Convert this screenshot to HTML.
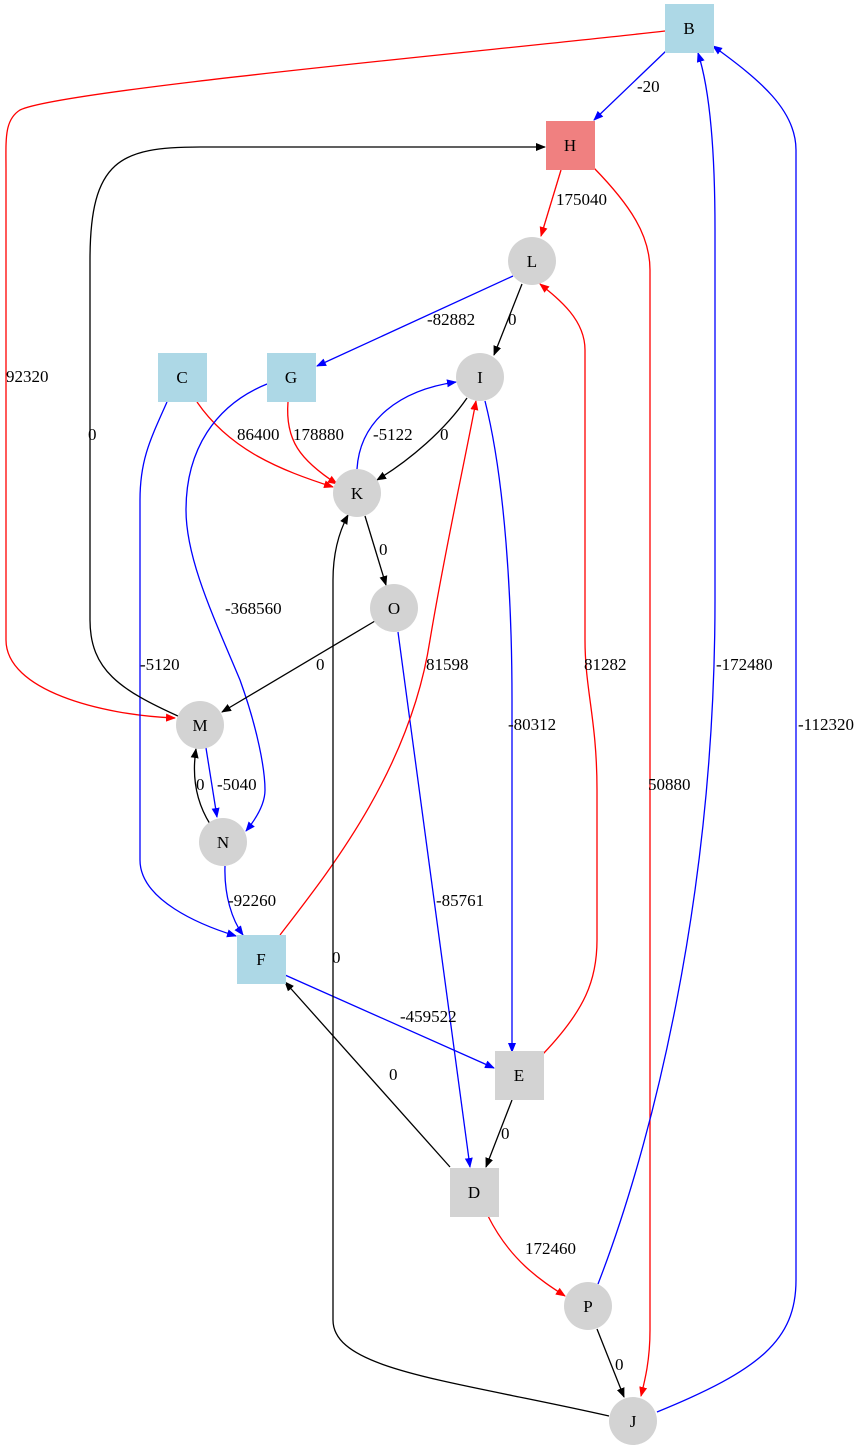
<!DOCTYPE html>
<html><head><meta charset="utf-8"><style>
html,body{margin:0;padding:0;background:#fff;}
svg{display:block;}
text{font-family:"Liberation Serif",serif;font-size:17px;}
</style></head><body>
<svg width="863" height="1453" viewBox="0 0 863 1453" xmlns="http://www.w3.org/2000/svg">
<defs>
<marker id="ak" viewBox="0 0 10 10" refX="9" refY="5" markerWidth="10" markerHeight="10" markerUnits="userSpaceOnUse" orient="auto"><path d="M0,1 L10,5 L0,9 z" fill="#000"/></marker>
<marker id="ab" viewBox="0 0 10 10" refX="9" refY="5" markerWidth="10" markerHeight="10" markerUnits="userSpaceOnUse" orient="auto"><path d="M0,1 L10,5 L0,9 z" fill="#00f"/></marker>
<marker id="ar" viewBox="0 0 10 10" refX="9" refY="5" markerWidth="10" markerHeight="10" markerUnits="userSpaceOnUse" orient="auto"><path d="M0,1 L10,5 L0,9 z" fill="#f00"/></marker>
</defs>
<g fill="none" stroke-width="1.3">
<path d="M666,51 L594,120" stroke="#00f" marker-end="url(#ab)"/>
<path d="M665,31 C500,50 60,90 20,110 C4,120 6,140 6,170 L6,640 C6,690 100,715 175,718" stroke="#f00" marker-end="url(#ar)"/>
<path d="M561,170 L541,236" stroke="#f00" marker-end="url(#ar)"/>
<path d="M594,168 C630,205 650,235 650,270 L650,1330 C650,1360 645,1380 641,1396" stroke="#f00" marker-end="url(#ar)"/>
<path d="M513,276 L317,366" stroke="#00f" marker-end="url(#ab)"/>
<path d="M522,284 L494,355" stroke="#000" marker-end="url(#ak)"/>
<path d="M467,398 C445,430 410,460 377,480" stroke="#000" marker-end="url(#ak)"/>
<path d="M357,469 C360,420 400,390 456,382" stroke="#00f" marker-end="url(#ab)"/>
<path d="M197,402 C230,450 280,470 333,487" stroke="#f00" marker-end="url(#ar)"/>
<path d="M288,402 C285,440 300,460 337,484" stroke="#f00" marker-end="url(#ar)"/>
<path d="M267,384 C215,405 186,450 186,510 C186,560 215,620 240,680 C258,730 265,770 265,790 C265,805 255,820 246,831" stroke="#00f" marker-end="url(#ab)"/>
<path d="M167,402 C150,440 140,460 140,500 L140,860 C140,900 200,925 236,936" stroke="#00f" marker-end="url(#ab)"/>
<path d="M365,516 L386,585" stroke="#000" marker-end="url(#ak)"/>
<path d="M375,621 L222,712" stroke="#000" marker-end="url(#ak)"/>
<path d="M398,632 L470,1167" stroke="#00f" marker-end="url(#ab)"/>
<path d="M485,401 C505,480 512,600 512,700 L512,1052" stroke="#00f" marker-end="url(#ab)"/>
<path d="M206,748 L217,817" stroke="#00f" marker-end="url(#ab)"/>
<path d="M210,824 C195,800 192,775 196,749" stroke="#000" marker-end="url(#ak)"/>
<path d="M225,866 C224,895 232,920 243,935" stroke="#00f" marker-end="url(#ab)"/>
<path d="M280,935 C330,870 410,770 430,640 C445,550 465,460 476,401" stroke="#f00" marker-end="url(#ar)"/>
<path d="M180,717 C120,690 90,670 90,620 L90,260 C90,160 120,147 200,147 L545,147" stroke="#000" marker-end="url(#ak)"/>
<path d="M285,975 L494,1068" stroke="#00f" marker-end="url(#ab)"/>
<path d="M543,1054 C585,1010 597,980 597,940 L597,790 C597,720 585,690 585,640 L585,350 C585,320 560,300 540,284" stroke="#f00" marker-end="url(#ar)"/>
<path d="M512,1100 L486,1167" stroke="#000" marker-end="url(#ak)"/>
<path d="M450,1167 L285,982" stroke="#000" marker-end="url(#ak)"/>
<path d="M488,1216 C510,1260 540,1280 565,1296" stroke="#f00" marker-end="url(#ar)"/>
<path d="M597,1329 L624,1397" stroke="#000" marker-end="url(#ak)"/>
<path d="M598,1284 C650,1150 715,900 715,600 L715,230 C715,150 710,90 698,53" stroke="#00f" marker-end="url(#ab)"/>
<path d="M657,1412 C760,1370 796,1340 796,1280 L796,150 C796,110 760,80 713,46" stroke="#00f" marker-end="url(#ab)"/>
<path d="M609,1416 C450,1380 333,1370 333,1320 L333,580 C333,550 340,530 348,515" stroke="#000" marker-end="url(#ak)"/>
</g>
<g>
<rect x="665" y="4" width="49" height="49" fill="#add8e6"/>
<rect x="546" y="121" width="49" height="49" fill="#f08080"/>
<rect x="158" y="353" width="49" height="49" fill="#add8e6"/>
<rect x="267" y="353" width="49" height="49" fill="#add8e6"/>
<rect x="237" y="935" width="49" height="49" fill="#add8e6"/>
<rect x="495" y="1051" width="49" height="49" fill="#d3d3d3"/>
<rect x="450" y="1168" width="49" height="49" fill="#d3d3d3"/>
<circle cx="532" cy="261" r="24" fill="#d3d3d3"/>
<circle cx="480" cy="377" r="24" fill="#d3d3d3"/>
<circle cx="357" cy="493" r="24" fill="#d3d3d3"/>
<circle cx="394" cy="608" r="24" fill="#d3d3d3"/>
<circle cx="200" cy="725" r="24" fill="#d3d3d3"/>
<circle cx="223" cy="842" r="24" fill="#d3d3d3"/>
<circle cx="588" cy="1306" r="24" fill="#d3d3d3"/>
<circle cx="633" cy="1421" r="24" fill="#d3d3d3"/>
</g>
<g text-anchor="middle">
<text x="689" y="34">B</text>
<text x="570" y="151">H</text>
<text x="182" y="383">C</text>
<text x="291" y="383">G</text>
<text x="261" y="965">F</text>
<text x="519" y="1081">E</text>
<text x="474" y="1198">D</text>
<text x="532" y="267">L</text>
<text x="480" y="383">I</text>
<text x="357" y="499">K</text>
<text x="394" y="614">O</text>
<text x="200" y="731">M</text>
<text x="223" y="848">N</text>
<text x="588" y="1312">P</text>
<text x="633" y="1427">J</text>
</g>
<g>
<text x="637" y="92">-20</text>
<text x="6" y="382">92320</text>
<text x="556" y="205">175040</text>
<text x="648" y="790">50880</text>
<text x="427" y="325">-82882</text>
<text x="508" y="325">0</text>
<text x="440" y="440">0</text>
<text x="373" y="440">-5122</text>
<text x="237" y="440">86400</text>
<text x="293" y="440">178880</text>
<text x="225" y="614">-368560</text>
<text x="140" y="670">-5120</text>
<text x="379" y="555">0</text>
<text x="316" y="670">0</text>
<text x="436" y="906">-85761</text>
<text x="508" y="730">-80312</text>
<text x="217" y="790">-5040</text>
<text x="196" y="790">0</text>
<text x="228" y="906">-92260</text>
<text x="426" y="670">81598</text>
<text x="88" y="440">0</text>
<text x="400" y="1022">-459522</text>
<text x="584" y="670">81282</text>
<text x="501" y="1139">0</text>
<text x="389" y="1080">0</text>
<text x="525" y="1254">172460</text>
<text x="615" y="1370">0</text>
<text x="716" y="670">-172480</text>
<text x="798" y="730">-112320</text>
<text x="332" y="963">0</text>
</g>
</svg>
</body></html>
